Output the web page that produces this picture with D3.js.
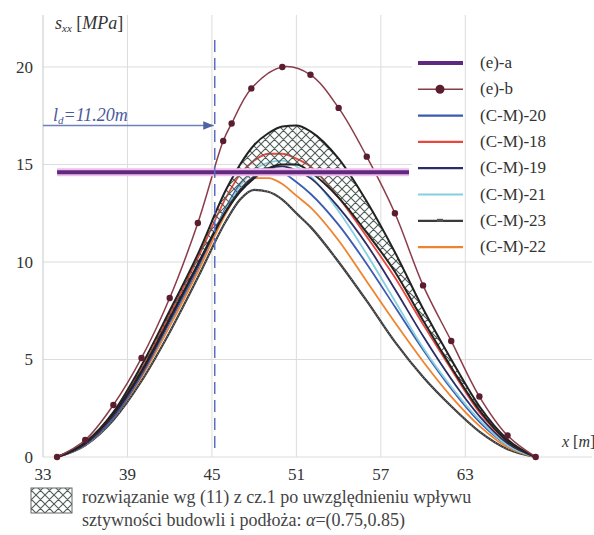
<!DOCTYPE html>
<html>
<head>
<meta charset="utf-8">
<script src="https://cdn.jsdelivr.net/npm/d3@7"></script>
<style>
body { margin: 0; background: #fff; }
svg text, svg tspan { font-family: "Liberation Serif", "Times New Roman", serif !important; }
</style>
</head>
<body>
<div id="content"></div>
<script>
// x positions shared by the model curves
var xs = [34, 36, 38, 40, 42, 44, 46, 47, 48, 49, 50, 51, 52, 54, 56, 58, 60, 62, 64, 66, 68];

// hatched band, upper and lower bound
var bandUpper = [0, 0.75, 2.3, 4.7, 7.5, 10.4, 13.7, 15.0, 16.0, 16.6, 16.95, 17.0, 16.7, 15.3, 13.1, 10.5, 7.6, 5.0, 2.6, 0.9, 0];
var bandLower = [0, 0.7, 2.2, 4.4, 7.1, 9.9, 12.6, 13.6, 14.3, 14.8, 15.0, 15.0, 14.6, 13.3, 11.5, 9.5, 7.0, 4.6, 2.4, 0.8, 0];

var cm18 = [0, 0.7, 2.2, 4.5, 7.3, 10.2, 13.3, 14.5, 15.2, 15.55, 15.55, 15.3, 14.9, 13.3, 11.3, 9.2, 6.8, 4.5, 2.3, 0.8, 0];
var cm19 = [0, 0.65, 2.1, 4.3, 7.0, 9.8, 12.6, 13.7, 14.4, 14.8, 14.9, 14.7, 14.3, 12.8, 10.9, 8.6, 6.2, 4.0, 2.1, 0.7, 0];
var cm21 = [0, 0.65, 2.1, 4.3, 7.0, 9.8, 12.7, 13.9, 14.7, 15.1, 15.2, 14.9, 14.4, 12.6, 10.4, 8.0, 5.6, 3.6, 1.9, 0.6, 0];
var cm20 = [0, 0.6, 2.0, 4.2, 6.9, 9.7, 12.8, 14.0, 14.6, 14.8, 14.6, 14.1, 13.5, 11.9, 9.9, 7.7, 5.5, 3.5, 1.8, 0.6, 0];
var cm22 = [0, 0.6, 2.0, 4.1, 6.7, 9.5, 12.5, 13.7, 14.3, 14.3, 14.0, 13.4, 12.8, 11.1, 9.0, 6.9, 4.9, 3.1, 1.6, 0.5, 0];
var cm23 = [0, 0.6, 1.9, 3.9, 6.4, 9.2, 12.1, 13.2, 13.7, 13.6, 13.2, 12.5, 11.8, 10.0, 8.0, 5.9, 4.1, 2.6, 1.3, 0.4, 0];

// (e)-b measured points
var ebX = [34, 36, 38, 40, 42, 44, 45.8, 46.4, 47.8, 50, 52, 54, 56, 58, 60, 62, 64, 66, 68];
var ebY = [0, 0.87, 2.67, 5.08, 8.15, 12.0, 16.2, 17.1, 18.9, 20.0, 19.6, 17.9, 15.4, 12.5, 8.8, 5.95, 3.1, 1.1, 0];

// (e)-a constant level
var eaX = [34, 59];
var eaY = 14.6;

var ld = 11.2;          // l_d, measured from x = 34
var xTicks = [33, 39, 45, 51, 57, 63];
var yTicks = [0, 5, 10, 15, 20];

var legendNames = ["(e)-a", "(e)-b", "(C-M)-20", "(C-M)-18", "(C-M)-19", "(C-M)-21", "(C-M)-23", "(C-M)-22"];
var legendColors = ["#5e2a80", "#8a3c48", "#3b5bb0", "#e8473c", "#2c2d66", "#86cfe0", "#3a3a3a", "#f0842e"];

var SERIF = "Liberation Serif";
var W = 594, H = 535;
var xScale = d3.scaleLinear().domain([33, 72]).range([43, 592]);
var yScale = d3.scaleLinear().domain([0, 22.7]).range([457, 14.3]);

var svg = d3.select("#content").append("svg")
    .attr("width", W)
    .attr("height", H);

var defs = svg.append("defs");
var pat = defs.append("pattern")
    .attr("id", "hatch")
    .attr("patternUnits", "userSpaceOnUse")
    .attr("width", 9)
    .attr("height", 9);
pat.append("path")
    .attr("d", "M0,0L9,9M9,0L0,9M-1,8L1,10M8,-1L10,1")
    .attr("stroke", "#4e5d58")
    .attr("stroke-width", 1.1);

defs.append("marker")
    .attr("id", "arrow")
    .attr("viewBox", "0 0 10 10")
    .attr("refX", 10).attr("refY", 5)
    .attr("markerWidth", 7).attr("markerHeight", 7)
    .attr("orient", "auto")
    .append("path")
    .attr("d", "M0,1L10,5L0,9Z")
    .attr("fill", "#4f63a3");

// grid
svg.append("g").selectAll("line")
    .data(yTicks)
    .enter().append("line")
    .attr("x1", 43).attr("x2", 592)
    .attr("y1", function(d) { return yScale(d); })
    .attr("y2", function(d) { return yScale(d); })
    .attr("stroke", "#dcdcdc");

// legend background hides the grid
svg.append("rect")
    .attr("x", 412).attr("y", 42)
    .attr("width", 182).attr("height", 214)
    .attr("fill", "#fff");

svg.append("g").selectAll("line")
    .data(xTicks)
    .enter().append("line")
    .attr("x1", function(d) { return xScale(d); })
    .attr("x2", function(d) { return xScale(d); })
    .attr("y1", 15).attr("y2", 457)
    .attr("stroke", function(d) { return d == 33 ? "#c8c8c8" : "#dcdcdc"; });

// tick labels
svg.append("g").selectAll("text")
    .data(yTicks)
    .enter().append("text")
    .attr("x", 33)
    .attr("y", function(d) { return yScale(d) + 6; })
    .attr("text-anchor", "end")
    .style("font-family", SERIF, "important")
    .style("font-size", "17px")
    .style("fill", "#333")
    .text(function(d) { return d; });

svg.append("g").selectAll("text")
    .data(xTicks)
    .enter().append("text")
    .attr("x", function(d) { return xScale(d); })
    .attr("y", 480)
    .attr("text-anchor", "middle")
    .style("font-family", SERIF, "important")
    .style("font-size", "17px")
    .style("fill", "#333")
    .text(function(d) { return d; });

// axis titles
var yt = svg.append("text").attr("x", 55).attr("y", 29)
    .style("font-family", SERIF, "important").style("font-size", "18px").style("fill", "#333");
yt.append("tspan").style("font-style", "italic").text("s");
yt.append("tspan").style("font-style", "italic").style("font-size", "11px").attr("dy", 3).text("xx");
yt.append("tspan").attr("dy", -3).text(" [");
yt.append("tspan").style("font-style", "italic").text("MPa");
yt.append("tspan").text("]");

var xt = svg.append("text").attr("x", 562).attr("y", 447)
    .style("font-family", SERIF, "important").style("font-size", "16px").style("fill", "#333");
xt.append("tspan").style("font-style", "italic").text("x");
xt.append("tspan").text(" [");
xt.append("tspan").style("font-style", "italic").text("m");
xt.append("tspan").text("]");

function pts(arr) {
    return arr.map(function(v, i) { return [xs[i], v]; });
}

var line = d3.line()
    .x(function(d) { return xScale(d[0]); })
    .y(function(d) { return yScale(d[1]); })
    .curve(d3.curveMonotoneX);

var models = [
    { v: cm23, c: legendColors[6], w: 2.2 },
    { v: cm22, c: legendColors[7], w: 1.8 },
    { v: cm20, c: legendColors[2], w: 1.8 },
    { v: cm21, c: legendColors[5], w: 1.8 },
    { v: cm19, c: legendColors[4], w: 1.8 },
    { v: cm18, c: legendColors[3], w: 1.8 }
];

svg.append("g").selectAll("path")
    .data(models)
    .enter().append("path")
    .attr("d", function(d) { return line(pts(d.v)); })
    .attr("fill", "none")
    .attr("stroke", function(d) { return d.c; })
    .attr("stroke-width", function(d) { return d.w; });

// texture of the (C-M)-23 line
svg.append("path")
    .attr("d", line(pts(cm23)))
    .attr("fill", "none")
    .attr("stroke", "#8a8a8a")
    .attr("stroke-width", 1)
    .attr("stroke-dasharray", "1,2");

// hatched band
var area = d3.area()
    .x(function(d) { return xScale(d[0]); })
    .y0(function(d) { return yScale(d[1]); })
    .y1(function(d) { return yScale(d[2]); })
    .curve(d3.curveMonotoneX);

svg.append("path")
    .attr("d", area(xs.map(function(x, i) { return [x, bandLower[i], bandUpper[i]]; })))
    .attr("fill", "url(#hatch)");

[bandUpper, bandLower].forEach(function(b) {
    svg.append("path")
        .attr("d", line(pts(b)))
        .attr("fill", "none")
        .attr("stroke", "#222")
        .attr("stroke-width", 2);
});

// (e)-b
var eb = ebX.map(function(x, i) { return [x, ebY[i]]; });
var ebLine = d3.line()
    .x(function(d) { return xScale(d[0]); })
    .y(function(d) { return yScale(d[1]); })
    .curve(d3.curveCatmullRom);
svg.append("path")
    .attr("d", ebLine(eb))
    .attr("fill", "none")
    .attr("stroke", legendColors[1])
    .attr("stroke-width", 1.5);

svg.append("g").selectAll("circle")
    .data(eb)
    .enter().append("circle")
    .attr("cx", function(d) { return xScale(d[0]); })
    .attr("cy", function(d) { return yScale(d[1]); })
    .attr("r", 3.2)
    .attr("fill", "#5a1e30");

// (e)-a
svg.append("line")
    .attr("x1", xScale(eaX[0])).attr("x2", xScale(eaX[1]))
    .attr("y1", yScale(eaY)).attr("y2", yScale(eaY))
    .attr("stroke", "#f2bde9").attr("stroke-width", 8);
svg.append("line")
    .attr("x1", xScale(eaX[0])).attr("x2", xScale(eaX[1]))
    .attr("y1", yScale(eaY)).attr("y2", yScale(eaY))
    .attr("stroke", legendColors[0]).attr("stroke-width", 4);

// l_d marker
var xd = xScale(34 + ld);
svg.append("line")
    .attr("x1", xd).attr("x2", xd)
    .attr("y1", 40).attr("y2", yScale(0.2))
    .attr("stroke", "#5a6fc2")
    .attr("stroke-width", 1.5)
    .attr("stroke-dasharray", "12,6");

svg.append("line")
    .attr("x1", xScale(33)).attr("x2", xd - 1)
    .attr("y1", yScale(17)).attr("y2", yScale(17))
    .attr("stroke", "#6d80b8")
    .attr("stroke-width", 1.5)
    .attr("marker-end", "url(#arrow)");

var lt = svg.append("text").attr("x", 53).attr("y", 121)
    .style("font-family", SERIF, "important")
    .style("font-size", "18px").style("font-style", "italic").style("fill", "#4a5a9e");
lt.append("tspan").text("l");
lt.append("tspan").style("font-size", "11px").attr("dy", 3).text("d");
lt.append("tspan").attr("dy", -3).text("=11.20");
lt.append("tspan").text("m");

// legend
var lg = svg.append("g").selectAll("g")
    .data(legendNames)
    .enter().append("g")
    .attr("transform", function(d, i) { return "translate(0," + (63 + i * 26.3) + ")"; });

lg.append("line")
    .attr("x1", 418).attr("x2", 463)
    .attr("stroke", function(d, i) { return legendColors[i]; })
    .attr("stroke-width", function(d, i) { return i == 0 ? 4 : (i == 1 ? 1.5 : 2.2); });

lg.filter(function(d, i) { return i == 1; })
    .append("circle").attr("cx", 440).attr("r", 4.5).attr("fill", "#5a1e30");
lg.filter(function(d, i) { return i == 6; })
    .append("rect").attr("x", 437).attr("y", -2).attr("width", 6).attr("height", 3).attr("fill", "#555");

lg.append("text")
    .attr("x", 480).attr("y", 5)
    .style("font-family", SERIF, "important")
    .style("font-size", "17px")
    .style("fill", "#333")
    .text(function(d) { return d; });

// hatch legend
svg.append("rect")
    .attr("x", 31).attr("y", 488)
    .attr("width", 41).attr("height", 25)
    .attr("fill", "url(#hatch)")
    .attr("stroke", "#666")
    .attr("stroke-width", 1);

var note = svg.append("text").attr("x", 82).attr("y", 503)
    .style("font-family", SERIF, "important").style("font-size", "18px").style("fill", "#444");
note.text("rozwiązanie wg (11) z cz.1 po uwzględnieniu wpływu");
var note2 = svg.append("text").attr("x", 82).attr("y", 526)
    .style("font-family", SERIF, "important").style("font-size", "18px").style("fill", "#444");
note2.append("tspan").text("sztywności budowli i podłoża: ");
note2.append("tspan").style("font-style", "italic").text("α");
note2.append("tspan").text("=(0.75,0.85)");
</script>
</body>
</html>
